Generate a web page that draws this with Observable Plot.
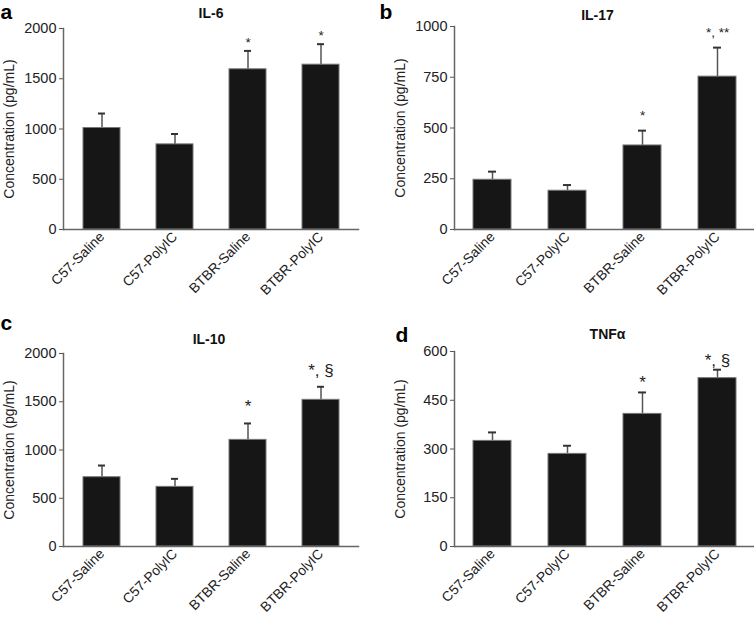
<!DOCTYPE html>
<html><head><meta charset="utf-8">
<script src="https://cdn.jsdelivr.net/npm/d3@7"></script>
<script src="https://cdn.jsdelivr.net/npm/@observablehq/plot@0.6"></script>
<style>
body{margin:0;background:#fff;}
#wrap{position:relative;width:754px;height:618px;background:#fff;}
.panel{position:absolute;}
</style></head><body><div id="wrap"></div>
<script>
// ---- data ----
const groups = ["C57-Saline", "C57-PolyIC", "BTBR-Saline", "BTBR-PolyIC"];

const il6Mean = [1010, 847, 1594, 1640];
const il6Sem  = [144, 103, 183, 204];
const il6Sig  = ["", "", "*", "*"];
const il6Ticks = [0, 500, 1000, 1500, 2000];

const il17Mean = [245, 191, 414, 753];
const il17Sem  = [40, 28, 73, 143];
const il17Sig  = ["", "", "*", "*, **"];
const il17Ticks = [0, 250, 500, 750, 1000];

const il10Mean = [718, 618, 1105, 1520];
const il10Sem  = [121, 83, 170, 135];
const il10Sig  = ["", "", "*", "*, §"];
const il10Ticks = [0, 500, 1000, 1500, 2000];

const tnfMean = [325, 285, 408, 518];
const tnfSem  = [26, 25, 66, 26];
const tnfSig  = ["", "", "*", "*, §"];
const tnfTicks = [0, 150, 300, 450, 600];

const yLabel = "Concentration (pg/mL)";

// ---- layout ----
const panels = [
  {letter: "a", title: "IL-6", mean: il6Mean, sem: il6Sem, sig: il6Sig, ticks: il6Ticks,
   left: 0, top: 0, mt: 28, mb: 80, ml: 63, mr: 19, titleTop: 8, titleDx: 0, letterX: 0, letterTop: 4, sigSize: 13.5, sigDy: -4},
  {letter: "b", title: "IL-17", mean: il17Mean, sem: il17Sem, sig: il17Sig, ticks: il17Ticks,
   left: 377, top: 0, mt: 26, mb: 80, ml: 77, mr: 0, titleTop: 10, titleDx: -7, letterX: 2, letterTop: 4, sigSize: 13.5, sigDy: -11},
  {letter: "c", title: "IL-10", mean: il10Mean, sem: il10Sem, sig: il10Sig, ticks: il10Ticks,
   left: 0, top: 309, mt: 44, mb: 72, ml: 63, mr: 19, titleTop: 25, titleDx: -2, letterX: 0, letterTop: 6, sigSize: 17, sigDy: -11},
  {letter: "d", title: "TNF\u03b1", mean: tnfMean, sem: tnfSem, sig: tnfSig, ticks: tnfTicks,
   left: 377, top: 309, mt: 42, mb: 72, ml: 77, mr: 0, titleTop: 20, titleDx: 3, letterX: 18, letterTop: 18, sigSize: 17, sigDy: -4}
];

const wrap = document.getElementById("wrap");
const font = "'Liberation Sans', Arial, Helvetica, sans-serif";
const yAxisFont = 14.5;
const xAxisFont = 13.8;

for (const p of panels) {
  const data = groups.map((g, i) => ({g, v: p.mean[i], e: p.sem[i], s: p.sig[i]}));
  const chart = Plot.plot({
    width: 377,
    height: 309,
    marginTop: p.mt,
    marginBottom: p.mb,
    marginLeft: p.ml,
    marginRight: p.mr,
    style: {fontFamily: font, fontSize: yAxisFont + "px", color: "#222", background: "#fff"},
    x: {domain: groups, paddingInner: 0.5, paddingOuter: 0.25},
    y: {domain: [p.ticks[0], p.ticks[p.ticks.length - 1]]},
    marks: [
      Plot.axisX({tickRotate: -45, tickSize: 0, tickPadding: 5, fontSize: xAxisFont, label: null, fill: "#222"}),
      Plot.axisY({ticks: p.ticks, tickFormat: d => String(d), tickSize: 4, tickPadding: 3, fontSize: yAxisFont, label: null, stroke: "#555", fill: "#222"}),
      Plot.ruleX(data, {x: "g", y1: "v", y2: d => d.v + d.e, stroke: "#555", strokeWidth: 1.5}),
      Plot.tickY(data, {x: "g", y: d => d.v + d.e, insetLeft: 15, insetRight: 15, stroke: "#333", strokeWidth: 2}),
      Plot.barY(data, {x: "g", y: "v", fill: "#161616", stroke: "#777", strokeWidth: 1}),
      Plot.text(data, {x: "g", y: d => d.v + d.e, text: "s", dy: p.sigDy, lineAnchor: "bottom", fontSize: p.sigSize, fill: "#222", letterSpacing: 1.5}),
      Plot.frame({anchor: "left", stroke: "#666", strokeWidth: 1.5}),
      Plot.frame({anchor: "bottom", stroke: "#666", strokeWidth: 1.5}),
      Plot.text([p.title], {frameAnchor: "top", lineAnchor: "top", dx: p.titleDx, dy: p.titleTop - p.mt, fontWeight: "bold", fontSize: 14, fill: "#111"}),
      Plot.text([p.letter], {frameAnchor: "top-left", textAnchor: "start", lineAnchor: "top", dx: p.letterX - p.ml, dy: p.letterTop - p.mt, fontWeight: "bold", fontSize: 21, fill: "#000"}),
      Plot.text([yLabel], {frameAnchor: "left", rotate: -90, dx: -54, textAnchor: "middle", lineAnchor: "middle", fontSize: 14, fill: "#222"})
    ]
  });
  chart.classList.add("panel");
  chart.style.left = p.left + "px";
  chart.style.top = p.top + "px";
  wrap.appendChild(chart);
}
</script>
</body></html>
